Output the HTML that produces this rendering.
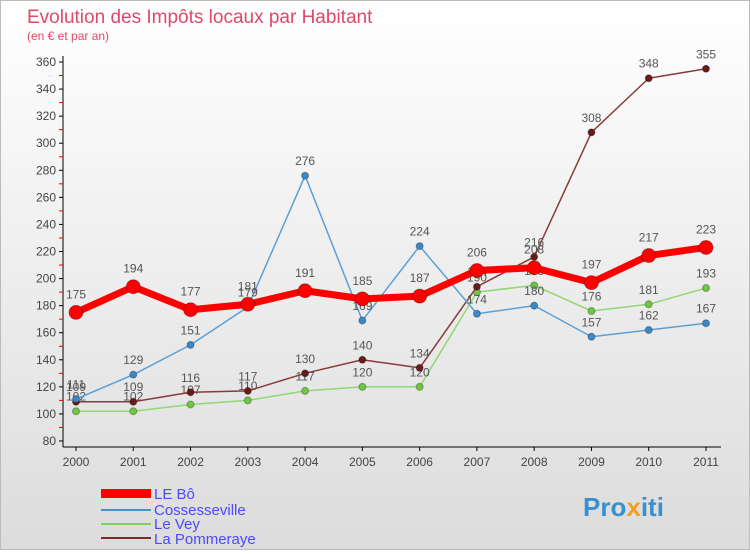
<!DOCTYPE html>
<html><head><meta charset="utf-8"><style>
body{margin:0;width:750px;height:550px;overflow:hidden;font-family:"Liberation Sans",sans-serif}
#wrap{position:relative;width:748px;height:548px;border:1px solid #bbb;background:linear-gradient(#fff,#dcdcdc)}
</style></head><body>
<div id="wrap">
<svg id="c" width="748" height="548" xmlns="http://www.w3.org/2000/svg">
<text x="26" y="22" font-size="19" fill="#e04868">Evolution des Impôts locaux par Habitant</text>
<text x="26" y="39" font-size="12" fill="#e04868">(en € et par an)</text>
<g id="axes"></g><g id="series"></g>
<g>
<rect x="100" y="488" width="50" height="9" fill="#f00"/><text x="153" y="498" font-size="15" fill="#4a4aff">LE Bô</text>
<line x1="100" y1="509" x2="150" y2="509" stroke="#4a90c8" stroke-width="2"/><text x="153" y="514" font-size="15" fill="#4a4aff">Cossesseville</text>
<line x1="100" y1="523" x2="150" y2="523" stroke="#80d060" stroke-width="2"/><text x="153" y="528" font-size="15" fill="#4a4aff">Le Vey</text>
<line x1="100" y1="537" x2="150" y2="537" stroke="#7a2a2a" stroke-width="2"/><text x="153" y="543" font-size="15" fill="#4a4aff">La Pommeraye</text>
</g>
<text x="582" y="515" font-size="26" font-weight="bold" fill="#3a8fd0">Pro<tspan fill="#f0a020">x</tspan>iti</text>
</svg></div>
<script>
const years=[2000,2001,2002,2003,2004,2005,2006,2007,2008,2009,2010,2011];
const leBo=[175,194,177,181,191,185,187,206,208,197,217,223];
const cosses=[111,129,151,179,276,169,224,174,180,157,162,167];
const leVey=[102,102,107,110,117,120,120,190,195,176,181,193];
const pommer=[109,109,116,117,130,140,134,194,216,308,348,355];
const yTicks=[80,100,120,140,160,180,200,220,240,260,280,300,320,340,360];
const NS="http://www.w3.org/2000/svg";
const xs=i=>75+i*(630/11);
const ys=v=>440-(v-80)*(379/280);
function mk(t,a,p){const e=document.createElementNS(NS,t);for(const k in a)e.setAttribute(k,a[k]);p.appendChild(e);return e;}
const ax=document.getElementById('axes');
mk('line',{x1:62,y1:55,x2:62,y2:446,stroke:'#000'},ax);
mk('line',{x1:62,y1:446,x2:720,y2:446,stroke:'#000'},ax);
yTicks.forEach((v,k)=>{const y=ys(v);
 mk('line',{x1:58,y1:y,x2:62,y2:y,stroke:'#000'},ax);
 if(k>0) mk('line',{x1:58,y1:y+(379/280)*10,x2:62,y2:y+(379/280)*10,stroke:'#e00'},ax);
 const t=mk('text',{x:55,y:y+4,'font-size':12,'text-anchor':'end',fill:'#444'},ax);t.textContent=v;
 
 });
years.forEach((yr,i)=>{const x=xs(i);
 mk('line',{x1:x,y1:446,x2:x,y2:450,stroke:'#000'},ax);
 const t=mk('text',{x:x,y:465,'font-size':12,'text-anchor':'middle',fill:'#444'},ax);t.textContent=yr;
 
 });
const sg=document.getElementById('series');
function draw(vals,col,dot,w,r,name){
 const g=mk('g',{},sg);
 
 
 mk('polyline',{points:vals.map((v,i)=>xs(i)+','+ys(v)).join(' '),fill:'none',stroke:col,'stroke-width':w,'stroke-linejoin':'round'},g);
 vals.forEach((v,i)=>{const c=mk('circle',{cx:xs(i),cy:ys(v),r:r,fill:dot,stroke:'rgba(0,0,0,0.3)'},g);
  
  
  const t=mk('text',{x:xs(i),y:ys(v)-r-7,'font-size':12,'text-anchor':'middle',fill:'#555'},g);t.textContent=v;});
}
draw(leVey,'#90d870','#70c840',1.5,3.5,'series-le-vey');
draw(pommer,'#8a3a3a','#6a1a1a',1.5,3.5,'series-la-pommeraye');
draw(cosses,'#5aa0d8','#3a88c8',1.5,3.5,'series-cossesseville');
draw(leBo,'#f00','#f00',7,7,'series-le-bo');
</script>
</body></html>
